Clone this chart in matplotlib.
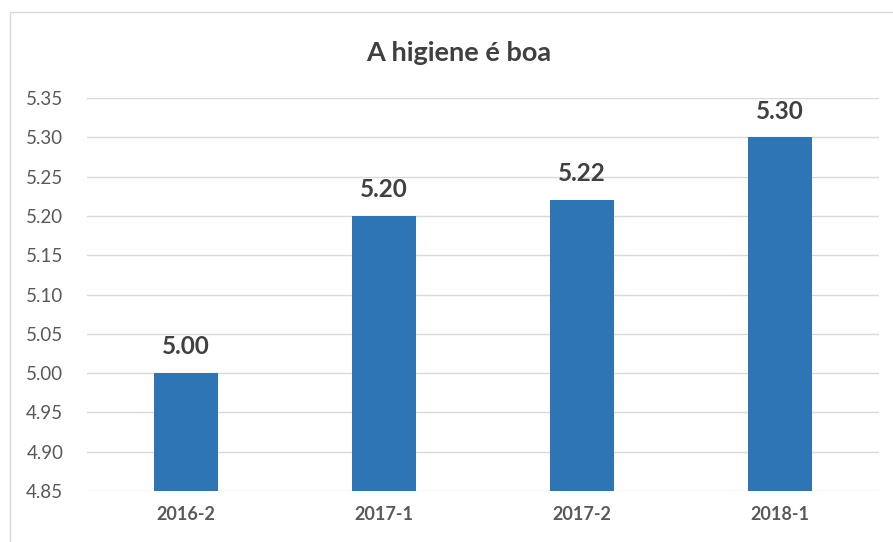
import matplotlib
matplotlib.use("Agg")
import matplotlib.pyplot as plt
from matplotlib.patches import Rectangle

categories = ["2016-2", "2017-1", "2017-2", "2018-1"]
values = [5.00, 5.20, 5.22, 5.30]
labels = ["5.00", "5.20", "5.22", "5.30"]
yticks = [4.85, 4.90, 4.95, 5.00, 5.05, 5.10, 5.15, 5.20, 5.25, 5.30, 5.35]

plt.rcParams['font.family'] = ['Lato', 'DejaVu Sans']

fig = plt.figure(figsize=(8.93, 5.42), dpi=100)
ax = fig.add_axes([87/893, 1-491/542, (879-87)/893, (491-98)/542])

x = list(range(len(categories)))
ax.bar(x, [v - 4.85 for v in values], bottom=4.85, width=0.32, color="#2E75B6", zorder=3)
for xi, v, lab in zip(x, values, labels):
    ax.annotate(lab, (xi, v), xytext=(0, 13.5), textcoords="offset points",
                ha="center", va="baseline", fontsize=17.5, fontweight="bold", color="#404040")

ax.set_xlim(-0.5, len(categories) - 0.5)
ax.set_ylim(4.85, 5.35)
ax.set_yticks(yticks)
ax.set_yticklabels([f"{t:.2f}" for t in yticks])
ax.set_xticks(x)
ax.set_xticklabels(categories, fontweight="bold")
ax.tick_params(axis="y", length=0, pad=17, labelsize=13.5, labelcolor="#595959")
ax.tick_params(axis="x", length=0, pad=11, labelsize=13, labelcolor="#595959")
ax.grid(axis="y", color="#D9D9D9", linewidth=1, zorder=0)
for s in ax.spines.values():
    s.set_visible(False)

fig.text(459/893, 1-61/542, "A higiene é boa", ha="center", va="baseline",
         fontsize=19.5, fontweight="bold", color="#404040")

# chart border (partially cropped)
fig.add_artist(Rectangle((10/893, -0.1), 1.2, 1 - 12/542 + 0.1, transform=fig.transFigure,
                         fill=False, edgecolor="#D9D9D9", linewidth=1))

fig.savefig("out.png", dpi=100)
